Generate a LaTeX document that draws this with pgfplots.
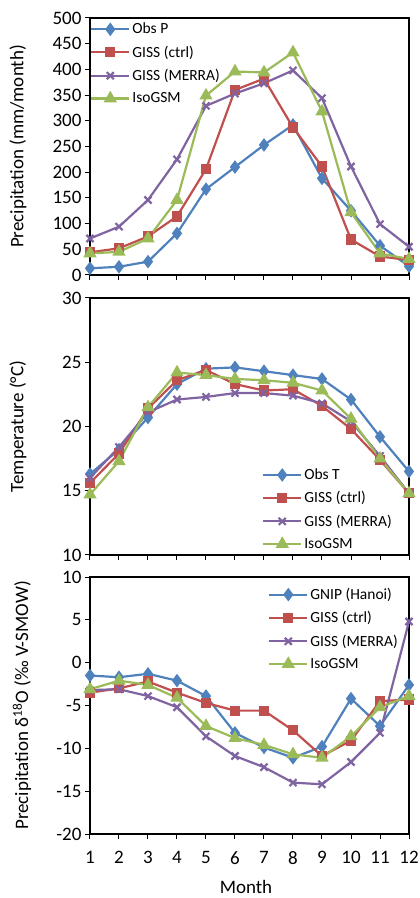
\documentclass[border=0pt]{standalone}
\usepackage{fontspec}
\setmainfont{Carlito}
\usepackage{pgfplots}
\pgfplotsset{compat=1.18}
\definecolor{cblue}{HTML}{4F81BD}
\definecolor{cred}{HTML}{C0504D}
\definecolor{cpurple}{HTML}{8064A2}
\definecolor{cgreen}{HTML}{9BBB59}
\pgfplotsset{
  panel/.style={
    scale only axis, width=319pt, height=257pt,
    xmin=1, xmax=12, xtick={1,...,12},
    axis line style={line width=1.2pt},
    tick style={black, line width=1pt},
    major tick length=5pt, tick align=outside,
    xtick pos=bottom, ytick pos=left,
    /pgf/number format/assume math mode=true,
    tick label style={font=\fontsize{19}{22}\selectfont},
    xticklabel style={yshift=-9pt},
    label style={font=\fontsize{19}{22}\selectfont},
    legend style={draw=none, fill=none, font=\fontsize{15.5}{18}\selectfont,
      row sep=6.5pt, inner xsep=0pt, inner ysep=0pt},
    legend cell align=left,
    legend image code/.code={
      \draw[mark repeat=2,mark phase=2] plot coordinates {(0pt,0pt) (19pt,0pt) (38pt,0pt)};},
    every axis plot/.append style={line width=2.2pt},
  },
  sb/.style={cblue, mark=diamond*, mark size=5pt, mark options={solid}},
  sr/.style={cred, mark=square*, mark size=4pt},
  sp/.style={cpurple, mark=x, mark size=5pt},
  sg/.style={cgreen, mark=triangle*, mark size=5.5pt},
}
\begin{document}
\begin{tikzpicture}
% Panel 1
\begin{axis}[panel, at={(0pt,559pt)},
  ymin=0, ymax=500, ytick={0,50,...,500},
  xticklabels={},
  ylabel={Precipitation (mm/month)},
  ylabel style={at={(axis description cs:-0.226,0.5)}, anchor=center},
  legend style={at={(axis description cs:0,1)}, anchor=north west, yshift=-3pt}]
\addplot[sb] coordinates {(1,13) (2,16) (3,26) (4,81) (5,167) (6,210) (7,253) (8,292) (9,188) (10,125) (11,57) (12,17)};
\addlegendentry{Obs P}
\addplot[sr] coordinates {(1,44) (2,52) (3,75) (4,114) (5,206) (6,360) (7,382) (8,287) (9,211) (10,69) (11,36) (12,29)};
\addlegendentry{GISS (ctrl)}
\addplot[sp] coordinates {(1,71) (2,94) (3,146) (4,225) (5,329) (6,353) (7,373) (8,398) (9,344) (10,211) (11,99) (12,55)};
\addlegendentry{GISS (MERRA)}
\addplot[sg] coordinates {(1,42) (2,45) (3,71) (4,146) (5,349) (6,396) (7,394) (8,433) (9,318) (10,122) (11,42) (12,31)};
\addlegendentry{IsoGSM}
\end{axis}
% Panel 2
\begin{axis}[panel, at={(0pt,279pt)},
  ymin=10, ymax=30, ytick={10,15,20,25,30},
  xticklabels={},
  ylabel={Temperature (°C)},
  ylabel style={at={(axis description cs:-0.226,0.5)}, anchor=center},
  legend style={at={(axis description cs:0.539,0)}, anchor=south west, yshift=3pt}]
\addplot[sb] coordinates {(1,16.3) (2,18.2) (3,20.7) (4,23.3) (5,24.5) (6,24.6) (7,24.3) (8,24.0) (9,23.7) (10,22.1) (11,19.2) (12,16.5)};
\addlegendentry{Obs T}
\addplot[sr] coordinates {(1,15.6) (2,17.9) (3,21.4) (4,23.6) (5,24.4) (6,23.3) (7,22.8) (8,22.9) (9,21.6) (10,19.8) (11,17.4) (12,14.8)};
\addlegendentry{GISS (ctrl)}
\addplot[sp] coordinates {(1,16.0) (2,18.4) (3,21.1) (4,22.1) (5,22.3) (6,22.6) (7,22.6) (8,22.4) (9,21.8) (10,20.4) (11,17.7) (12,14.8)};
\addlegendentry{GISS (MERRA)}
\addplot[sg] coordinates {(1,14.7) (2,17.3) (3,21.5) (4,24.2) (5,24.0) (6,23.7) (7,23.6) (8,23.4) (9,22.8) (10,20.6) (11,17.5) (12,14.8)};
\addlegendentry{IsoGSM}
\end{axis}
% Panel 3
\begin{axis}[panel, at={(0pt,0pt)},
  ymin=-20, ymax=10, ytick={-20,-15,...,10},
  xlabel={Month},
  xlabel style={at={(axis description cs:0.489,0)}, anchor=center, yshift=-53pt},
  ylabel={Precipitation δ\textsuperscript{18}O (‰ V-SMOW)},
  ylabel style={at={(axis description cs:-0.213,0.5)}, anchor=center},
  legend style={at={(axis description cs:0.558,1)}, anchor=north west, yshift=-9pt}]
\addplot[sb] coordinates {(1,-1.5) (2,-1.7) (3,-1.3) (4,-2.1) (5,-3.9) (6,-8.2) (7,-9.9) (8,-11.1) (9,-9.8) (10,-4.2) (11,-7.4) (12,-2.6)};
\addlegendentry{GNIP (Hanoi)}
\addplot[sr] coordinates {(1,-3.5) (2,-3.0) (3,-2.2) (4,-3.5) (5,-4.7) (6,-5.6) (7,-5.6) (8,-7.9) (9,-10.9) (10,-9.1) (11,-4.5) (12,-4.3)};
\addlegendentry{GISS (ctrl)}
\addplot[sp] coordinates {(1,-3.2) (2,-3.1) (3,-3.9) (4,-5.2) (5,-8.6) (6,-10.9) (7,-12.2) (8,-14.0) (9,-14.2) (10,-11.6) (11,-8.2) (12,4.8)};
\addlegendentry{GISS (MERRA)}
\addplot[sg] coordinates {(1,-3.1) (2,-2.1) (3,-2.6) (4,-4.1) (5,-7.4) (6,-8.8) (7,-9.6) (8,-10.7) (9,-11.1) (10,-8.6) (11,-5.2) (12,-3.9)};
\addlegendentry{IsoGSM}
\end{axis}
\pgfresetboundingbox
\useasboundingbox (-90pt,-64pt) rectangle (330pt,834pt);
\end{tikzpicture}
\end{document}
